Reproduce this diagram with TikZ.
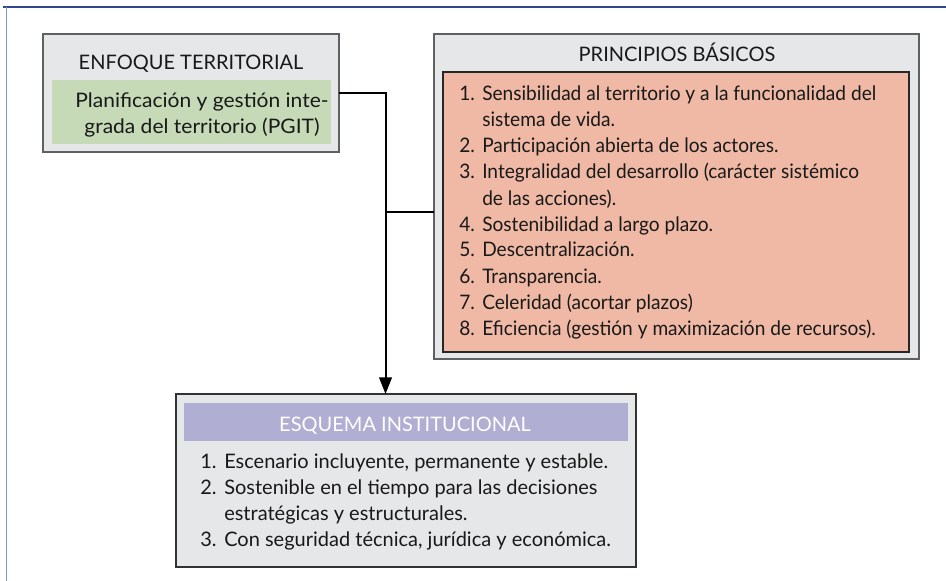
\documentclass[tikz,border=0pt]{standalone}
\usepackage{fontspec}
\setmainfont{Lato}
\newfontfamily\narrowlato[FakeStretch=0.955]{Lato}
\newfontfamily\widelato[FakeStretch=1.05]{Lato}
\usetikzlibrary{arrows.meta}
\definecolor{boxgray}{HTML}{E6E7E8}
\definecolor{boxedge}{HTML}{5F6062}
\definecolor{pgitgreen}{HTML}{C6DAB8}
\definecolor{salmon}{HTML}{EFB9A5}
\definecolor{lilac}{HTML}{B0AED3}
\definecolor{frametop}{HTML}{2E4A8C}
\definecolor{frameleft}{HTML}{8192D8}
\tikzset{
  outerbox/.style={draw=boxedge, line width=0.9pt, fill=boxgray, inner sep=0pt, outer sep=0pt},
  greenbox/.style={fill=pgitgreen, inner sep=0pt, outer sep=0pt},
  listbox/.style={draw=black!85, line width=0.9pt, fill=salmon, inner sep=0pt, outer sep=0pt},
  headbox/.style={fill=lilac, inner sep=0pt, outer sep=0pt},
  darkbox/.style={draw=black!80, line width=1pt, fill=boxgray, inner sep=0pt, outer sep=0pt},
  txt/.style={inner sep=0pt, font=\fontsize{15}{18}\selectfont, text=black!90},
  ntxt/.style={inner sep=0pt, font=\narrowlato\fontsize{15}{18}\selectfont, text=black!90},
  wtxt/.style={inner sep=0pt, font=\widelato\fontsize{15}{18}\selectfont, text=black!90},
  conn/.style={line width=1.5pt, black},
}
\begin{document}
\begin{tikzpicture}[x=0.75pt, y=-0.75pt]
\useasboundingbox (0,0) rectangle (946,581);
\fill[white] (0,0) rectangle (946,581);
% frame
\draw[frametop, line width=1pt] (3,7) -- (946,7);
\draw[frameleft, line width=0.9pt] (6.5,7) -- (6.5,581);

% boxes
\node[outerbox, minimum width=296*0.75pt, minimum height=118*0.75pt] (enf) at (191,93) {};
\node[greenbox, minimum width=279*0.75pt, minimum height=64*0.75pt] (pgit) at (191.5,112) {};
\node[outerbox, minimum width=485*0.75pt, minimum height=325*0.75pt] (prin) at (676.5,196.5) {};
\node[listbox, minimum width=466*0.75pt, minimum height=280*0.75pt] (prinlist) at (676,212) {};
\node[darkbox, minimum width=460*0.75pt, minimum height=173*0.75pt] (esq) at (406,480.5) {};
\node[headbox, minimum width=444*0.75pt, minimum height=38*0.75pt] (esqhead) at (406,422) {};

% connectors
\coordinate (jx) at (385.5,212);
\draw[conn, -{Triangle[length=12.5pt, width=9.5pt]}] (enf.east) -| (jx |- esq.north);
\draw[conn] (prin.west |- jx) -- (jx);

% texts: enfoque
\node[txt, anchor=base] (enft) at (191,70) {ENFOQUE TERRITORIAL};
\node[wtxt, anchor=base] (pg1) at (202,108) {Planificación y gestión inte-};
\node[wtxt, anchor=base] (pg2) at (202,134) {grada del territorio (PGIT)};

% principios
\node[txt, anchor=base] (prt) at (677,62) {PRINCIPIOS BÁSICOS};
\node[ntxt, anchor=base west] (n1) at (459,101) {1.};
\node[ntxt, anchor=base west] (t1) at (482,101) {Sensibilidad al territorio y a la funcionalidad del};
\node[ntxt, anchor=base west] (t1b) at (482,127) {sistema de vida.};
\node[ntxt, anchor=base west] (n2) at (459,153) {2.};
\node[ntxt, anchor=base west] (t2) at (482,153) {Participación abierta de los actores.};
\node[ntxt, anchor=base west] (n3) at (459,179) {3.};
\node[ntxt, anchor=base west] (t3) at (482,179) {Integralidad del desarrollo (carácter sistémico};
\node[ntxt, anchor=base west] (t3b) at (482,205) {de las acciones).};
\node[ntxt, anchor=base west] (n4) at (459,231) {4.};
\node[ntxt, anchor=base west] (t4) at (482,231) {Sostenibilidad a largo plazo.};
\node[ntxt, anchor=base west] (n5) at (459,257) {5.};
\node[ntxt, anchor=base west] (t5) at (482,257) {Descentralización.};
\node[ntxt, anchor=base west] (n6) at (459,283) {6.};
\node[ntxt, anchor=base west] (t6) at (482,283) {Transparencia.};
\node[ntxt, anchor=base west] (n7) at (459,309) {7.};
\node[ntxt, anchor=base west] (t7) at (482,309) {Celeridad (acortar plazos)};
\node[ntxt, anchor=base west] (n8) at (459,335) {8.};
\node[ntxt, anchor=base west] (t8) at (482,335) {Eficiencia (gestión y maximización de recursos).};

% esquema
\node[txt, anchor=base, text=white] (esqt) at (405,431) {ESQUEMA INSTITUCIONAL};
\node[txt, anchor=base west] (e1n) at (200,468) {1.};
\node[txt, anchor=base west] (e1) at (224,468) {Escenario incluyente, permanente y estable.};
\node[txt, anchor=base west] (e2n) at (200,494) {2.};
\node[txt, anchor=base west] (e2) at (224,494) {Sostenible en el tiempo para las decisiones};
\node[txt, anchor=base west] (e2b) at (224,520) {estratégicas y estructurales.};
\node[txt, anchor=base west] (e3n) at (200,546) {3.};
\node[txt, anchor=base west] (e3) at (224,546) {Con seguridad técnica, jurídica y económica.};
\end{tikzpicture}
\end{document}
